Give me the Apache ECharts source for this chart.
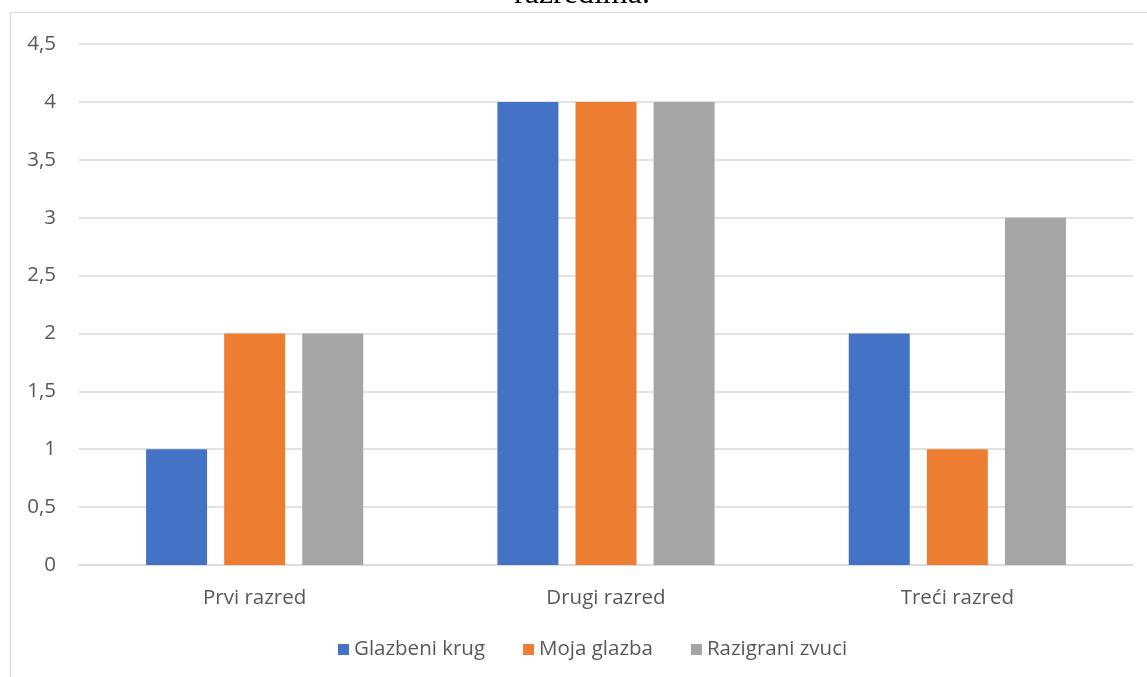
<!DOCTYPE html>
<html><head><meta charset="utf-8">
<script src="https://cdn.jsdelivr.net/npm/echarts@6/dist/echarts.min.js"></script>
<style>
html,body{margin:0;padding:0;background:#fff;overflow:hidden;}
#frame{position:absolute;left:10px;top:12px;width:1200px;height:720px;border:1.5px solid #D9D9D9;box-sizing:border-box;}
#c{position:absolute;left:0;top:0;width:1147px;height:677px;}
</style></head>
<body>
<div id="frame"></div>
<div id="c"></div>
<script>
const categories = ['Prvi razred', 'Drugi razred', 'Treći razred'];
const seriesNames = ['Glazbeni krug', 'Moja glazba', 'Razigrani zvuci'];
const glazbeniKrug = [1, 4, 2];
const mojaGlazba = [2, 4, 1];
const razigraniZvuci = [2, 4, 3];
const titleText = 'razredima.';
const colors = ['#4472C4', '#ED7D31', '#A5A5A5'];
const seriesData = [glazbeniKrug, mojaGlazba, razigraniZvuci];

const chart = echarts.init(document.getElementById('c'));
const font = 'Open Sans';
chart.setOption({
  animation: false,
  color: colors,
  graphic: [{
    type: 'text', x: 582, y: 11,
    style: { text: titleText, font: '32px "Liberation Serif"', fill: '#000', align: 'center', verticalAlign: 'bottom' },
    silent: true
  }],
  grid: { left: 79, right: 14, top: 44, bottom: 112, containLabel: false },
  legend: {
    bottom: 12, left: 333,
    itemWidth: 11, itemHeight: 11, itemGap: 38,
    icon: 'rect',
    textStyle: { fontFamily: font, fontSize: 20.5, color: '#595959' },
    data: seriesNames
  },
  xAxis: {
    type: 'category', data: categories,
    axisLine: { lineStyle: { color: '#D9D9D9', width: 1.5 } },
    axisTick: { show: false },
    axisLabel: { fontFamily: font, fontSize: 20.5, color: '#595959', margin: 23 }
  },
  yAxis: {
    type: 'value', min: 0, max: 4.5, interval: 0.5,
    axisLine: { show: false }, axisTick: { show: false },
    splitLine: { lineStyle: { color: '#D9D9D9', width: 1.5 } },
    axisLabel: { fontFamily: font, fontSize: 20.5, color: '#595959', margin: 23,
      formatter: v => String(v).replace('.', ',') }
  },
  series: seriesNames.map((n, i) => ({
    name: n, type: 'bar', data: seriesData[i],
    barWidth: 61, barGap: '28%'
  }))
});
</script>
</body></html>
